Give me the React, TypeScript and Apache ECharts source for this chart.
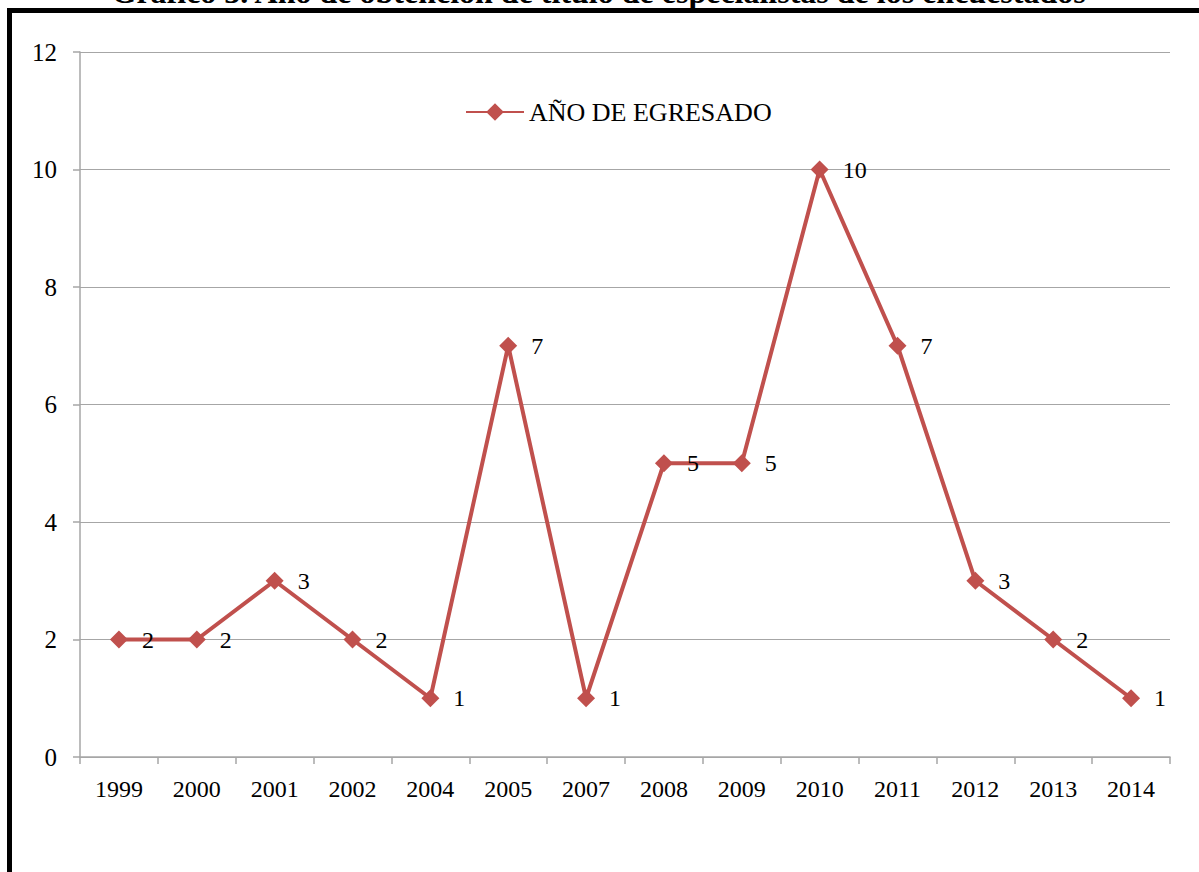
import React, { useEffect, useRef } from "react";
import * as echarts from "echarts";

const categories = ["1999", "2000", "2001", "2002", "2004", "2005", "2007", "2008", "2009", "2010", "2011", "2012", "2013", "2014"];
const values = [2, 2, 3, 2, 1, 7, 1, 5, 5, 10, 7, 3, 2, 1];
const seriesName = "AÑO DE EGRESADO";
const titleText = "Gráfico 3. Año de obtención de título de especialistas de los encuestados";

export default function App() {
  const ref = useRef<HTMLDivElement>(null);
  useEffect(() => {
    if (!ref.current) return;
    const chart = echarts.init(ref.current, null, { renderer: "svg" });
    const font = "'Liberation Serif', 'Times New Roman', serif";
    chart.setOption({
      animation: false,
      backgroundColor: "#ffffff",
      textStyle: { fontFamily: font },
      grid: { left: 80, right: 29, top: 52, bottom: 115, containLabel: false },
      legend: {
        left: 460,
        top: 94,
        itemWidth: 58,
        itemHeight: 22,
        itemGap: 2,
        textStyle: { fontFamily: font, fontSize: 26, color: "#000" },
        data: [{ name: seriesName }],
      },
      xAxis: {
        type: "category",
        data: categories,
        boundaryGap: true,
        axisLine: { lineStyle: { color: "#a6a6a6", width: 1.5 } },
        axisTick: { show: true, length: 7, alignWithLabel: false, lineStyle: { color: "#a6a6a6", width: 1.5 } },
        axisLabel: { fontFamily: font, fontSize: 24, color: "#000", margin: 20 },
      },
      yAxis: {
        type: "value",
        min: 0,
        max: 12,
        interval: 2,
        axisLine: { show: true, lineStyle: { color: "#a6a6a6", width: 1.5 } },
        axisTick: { show: true, length: 7, lineStyle: { color: "#a6a6a6", width: 1.5 } },
        splitLine: { show: true, lineStyle: { color: "#a6a6a6", width: 1.2 } },
        axisLabel: { fontFamily: font, fontSize: 25, color: "#000", margin: 23 },
      },
      series: [
        {
          name: seriesName,
          type: "line",
          data: values,
          color: "#c0504d",
          lineStyle: { color: "#c0504d", width: 4 },
          itemStyle: { color: "#c0504d" },
          symbol: "diamond",
          symbolSize: 18,
          label: {
            show: true,
            position: "right",
            distance: 14,
            fontFamily: font,
            fontSize: 24,
            color: "#000",
          },
        },
      ],
      graphic: [
        {
          type: "text",
          left: "center",
          top: -24,
          style: {
            text: titleText,
            font: "bold 32px 'Liberation Serif', serif",
            fill: "#000",
          },
        },
        { type: "rect", shape: { x: 7, y: 8, width: 1192, height: 5 }, style: { fill: "#000" } },
        { type: "rect", shape: { x: 7, y: 8, width: 5, height: 864 }, style: { fill: "#000" } },
      ],
    });
    return () => chart.dispose();
  }, []);
  return (
    <div
      ref={ref}
      style={{ position: "absolute", left: 0, top: 0, width: 1199, height: 872 }}
    />
  );
}
